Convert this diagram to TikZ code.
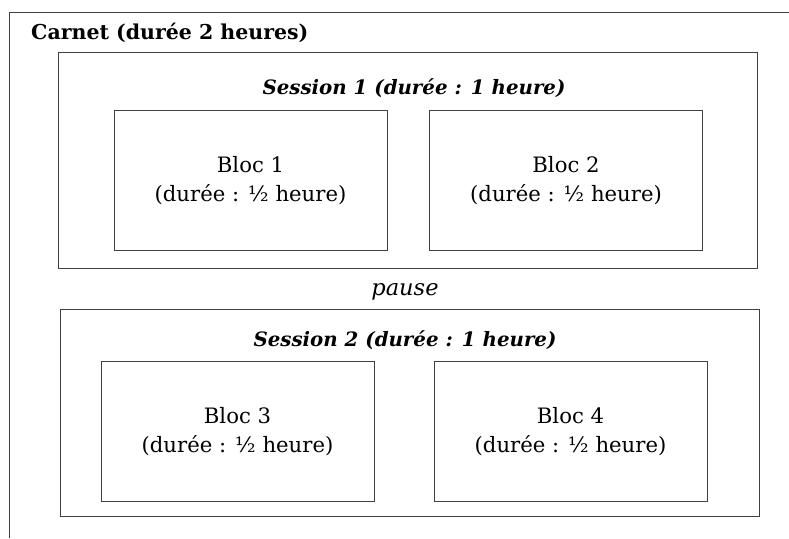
\documentclass[tikz,border=0pt]{standalone}
\usepackage{fontspec}
\setmainfont{DejaVu Serif}
\begin{document}
\begin{tikzpicture}[x=1pt,y=-1pt,
        bloc/.style={draw=black!75, line width=0.9pt, minimum width=273pt, minimum height=140pt, align=center, font=\fontsize{21.2}{29.5}\selectfont},
        session/.style={draw=black!75, line width=0.9pt, minimum width=699pt},
        titre/.style={font=\fontsize{19.8}{24}\selectfont\bfseries\itshape}]
                \useasboundingbox (0,0) rectangle (789,538);

                \coordinate (fbas) at (9.5,538);
                \coordinate (fcoin) at (9.5,12);
                \coordinate (fdroite) at (789,12);
                \draw[black!75, line width=0.9pt] (fbas) -- (fcoin) -- (fdroite);

                \node[anchor=west, inner sep=0pt, font=\fontsize{20.5}{24}\selectfont\bfseries, name=carnet] at (31,33) {Carnet (durée 2 heures)};

                \node[
                    session,
                    minimum height=216pt,
                    name=s1
                ] at (407.5,160.5) {};
                \node[titre, name=t1] at (414,88) {Session 1 (durée : 1 heure)};
                \node[bloc, name=b1] at (250.5,180.5) {Bloc 1\\(durée : ½ heure)};
                \node[bloc, name=b2] at (566,180.5) {Bloc 2\\(durée : ½ heure)};

                \node[font=\fontsize{22.5}{24}\selectfont\itshape, name=pause] at (405,292) {pause};

                \node[
                    session,
                    minimum height=207pt,
                    name=s2
                ] at (410,412.5) {};
                \node[titre, name=t2] at (405,340) {Session 2 (durée : 1 heure)};
                \node[bloc, name=b3] at (237.5,431.5) {Bloc 3\\(durée : ½ heure)};
                \node[bloc, name=b4] at (570.5,431.5) {Bloc 4\\(durée : ½ heure)};
            \end{tikzpicture}
\end{document}
